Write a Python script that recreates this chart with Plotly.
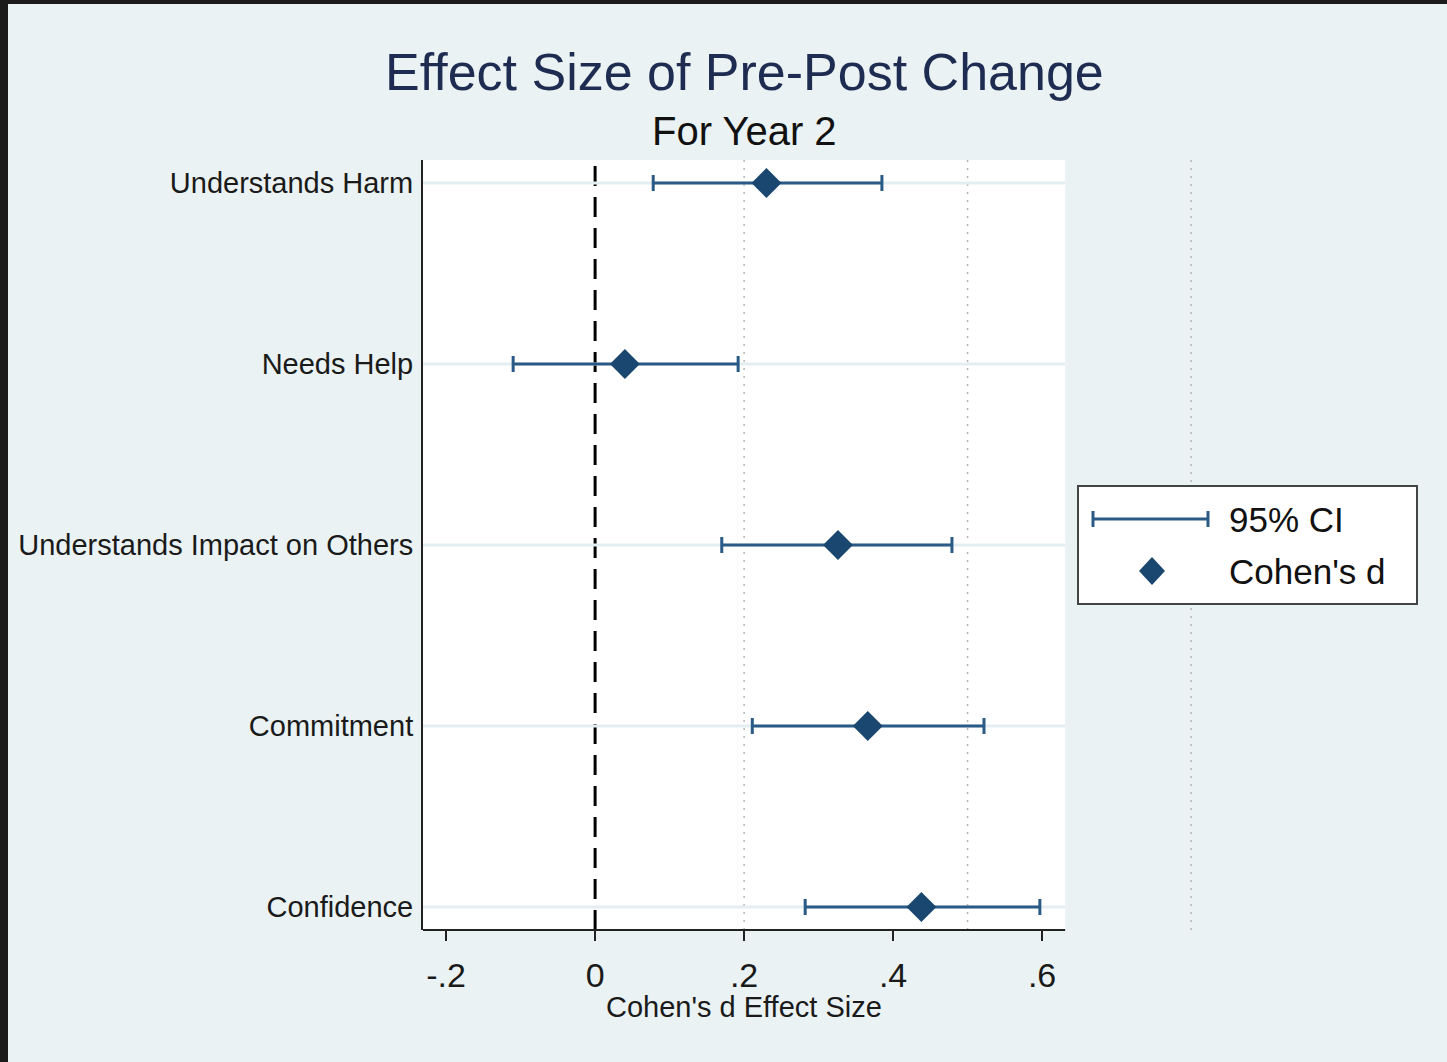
import plotly.graph_objects as go

# ---- data ----
categories = ["Understands Harm", "Needs Help", "Understands Impact on Others",
              "Commitment", "Confidence"]
cohens_d = [0.230, 0.040, 0.326, 0.366, 0.438]
ci_lower = [0.078, -0.110, 0.170, 0.211, 0.282]
ci_upper = [0.385, 0.192, 0.479, 0.522, 0.597]
x_tickvals = [-0.2, 0.0, 0.2, 0.4, 0.6]
x_ticktext = ["-.2", "0", ".2", ".4", ".6"]
ref_lines = [0.2, 0.5, 0.8]

# ---- styling / layout constants ----
W, H = 1447, 1062
BG = "#eaf2f3"
NAVY = "#1a476f"
CI_COL = "#2a5a86"
FONT = "Liberation Sans, Arial, sans-serif"

X_MIN, X_PLOT_MAX, X_EXT_MAX = -0.231, 0.631, 0.85
left_px, px_per_unit = 423, 745
top_px, bottom_px = 160, 930
x_dom = [left_px / W, (left_px + (X_EXT_MAX - X_MIN) * px_per_unit) / W]
y_dom = [(H - bottom_px) / H, (H - top_px) / H]

err_plus = [u - d for u, d in zip(ci_upper, cohens_d)]
err_minus = [d - l for d, l in zip(cohens_d, ci_lower)]

fig = go.Figure()
fig.add_trace(go.Scatter(
    x=cohens_d, y=categories, mode="markers",
    marker=dict(symbol="diamond", size=23, color=NAVY),
    error_x=dict(type="data", symmetric=False, array=err_plus, arrayminus=err_minus,
                 color=CI_COL, thickness=3, width=8),
    showlegend=False, hoverinfo="x+y",
))

shapes = []
# white plot region
shapes.append(dict(type="rect", xref="x", yref="y domain", x0=X_MIN, x1=X_PLOT_MAX,
                   y0=0, y1=1, fillcolor="white", line=dict(width=0), layer="below"))
# faint category lines
for c in categories:
    shapes.append(dict(type="line", xref="x", yref="y", x0=X_MIN, x1=X_PLOT_MAX,
                       y0=c, y1=c, line=dict(color="#e4edf2", width=3), layer="below"))
# dotted reference lines
for r in ref_lines:
    shapes.append(dict(type="line", xref="x", yref="y domain", x0=r, x1=r, y0=0, y1=1,
                       line=dict(color="#b4b4b4", width=1.5, dash="2px,6px"), layer="below"))
# zero line
shapes.append(dict(type="line", xref="x", yref="y domain", x0=0, x1=0, y0=0, y1=1,
                   line=dict(color="black", width=3, dash="20px,11px"), layer="below"))
# x axis line
shapes.append(dict(type="line", xref="x", yref="y domain", x0=X_MIN, x1=X_PLOT_MAX,
                   y0=0, y1=0, line=dict(color="#222222", width=2)))

# custom legend
lx0, lx1, ly0, ly1 = 1078 / W, 1417 / W, 1 - 604 / H, 1 - 486 / H
shapes.append(dict(type="rect", xref="paper", yref="paper", x0=lx0, x1=lx1, y0=ly0, y1=ly1,
                   fillcolor="white", line=dict(color="#444444", width=2)))
ly_ci = 1 - 519 / H
ly_d = 1 - 571 / H
shapes.append(dict(type="line", xref="paper", yref="paper", x0=1093 / W, x1=1208 / W,
                   y0=ly_ci, y1=ly_ci, line=dict(color=CI_COL, width=3)))
for xe in (1093 / W, 1208 / W):
    shapes.append(dict(type="line", xref="paper", yref="paper", x0=xe, x1=xe,
                       y0=ly_ci - 8 / H, y1=ly_ci + 8 / H, line=dict(color=CI_COL, width=3)))
shapes.append(dict(type="path", xref="paper", yref="paper", xsizemode="pixel",
                   ysizemode="pixel", xanchor=1152 / W, yanchor=ly_d,
                   path="M 0 14 L 13 0 L 0 -14 L -13 0 Z", fillcolor=NAVY,
                   line=dict(width=0)))
# dark screenshot frame
shapes.append(dict(type="rect", xref="paper", yref="paper", x0=0, x1=8 / W, y0=0, y1=1,
                   fillcolor="#1b1b1b", line=dict(width=0), layer="above"))
shapes.append(dict(type="rect", xref="paper", yref="paper", x0=0, x1=1, y0=1 - 4 / H, y1=1,
                   fillcolor="#1b1b1b", line=dict(width=0), layer="above"))

annotations = [
    dict(text="Effect Size of Pre-Post Change", x=744 / W, y=1 - 72 / H, xref="paper",
         yref="paper", showarrow=False, xanchor="center", yanchor="middle",
         font=dict(family=FONT, size=52, color="#1f2c52")),
    dict(text="For Year 2", x=744 / W, y=1 - 131 / H, xref="paper", yref="paper",
         showarrow=False, xanchor="center", yanchor="middle",
         font=dict(family=FONT, size=40, color="#111111")),
    dict(text="Cohen's d Effect Size", x=744 / W, y=1 - 1007 / H, xref="paper",
         yref="paper", showarrow=False, xanchor="center", yanchor="middle",
         font=dict(family=FONT, size=29, color="#1a1a1a")),
    dict(text="95% CI", x=1227 / W, y=ly_ci, xref="paper", yref="paper", showarrow=False,
         xanchor="left", yanchor="middle", font=dict(family=FONT, size=35, color="#111111")),
    dict(text="Cohen's d", x=1227 / W, y=ly_d, xref="paper", yref="paper", showarrow=False,
         xanchor="left", yanchor="middle", font=dict(family=FONT, size=35, color="#111111")),
]

fig.update_layout(
    width=W, height=H, autosize=False,
    margin=dict(l=0, r=0, t=0, b=0, pad=0),
    paper_bgcolor=BG, plot_bgcolor=BG,
    font=dict(family=FONT, color="#1a1a1a"),
    shapes=shapes, annotations=annotations, showlegend=False,
    xaxis=dict(domain=x_dom, range=[X_MIN, X_EXT_MAX], showgrid=False, zeroline=False,
               showline=False, tickmode="array", tickvals=x_tickvals, ticktext=x_ticktext,
               ticks="outside", ticklen=10, tickwidth=2, tickcolor="#222222",
               tickfont=dict(family=FONT, size=34, color="#1a1a1a"), ticklabelstandoff=5),
    yaxis=dict(domain=y_dom, type="category", categoryorder="array", categoryarray=categories,
               range=[len(categories) - 1 + 0.127, -0.127], showgrid=False, zeroline=False,
               showline=True, linecolor="#222222", linewidth=2, ticks="",
               tickfont=dict(family=FONT, size=29, color="#1a1a1a"), ticklabelstandoff=2),
)

fig.write_html("out.html", config={"displayModeBar": False},
               post_script="document.body.style.margin='0';document.body.style.overflow='hidden';")
